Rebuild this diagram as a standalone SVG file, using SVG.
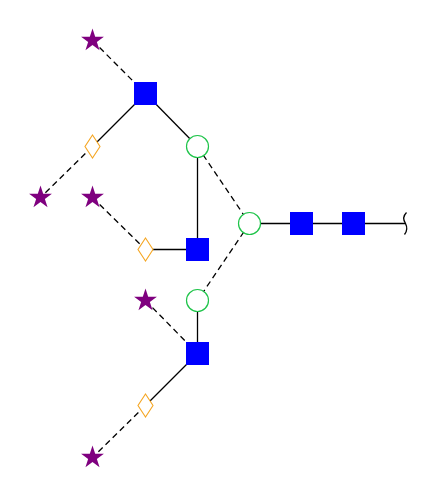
<svg xmlns="http://www.w3.org/2000/svg" xmlns:xlink="http://www.w3.org/1999/xlink" width="446" height="498" viewBox="0 0 446 498">
<style>
.s{stroke:#000;stroke-width:1.3;fill:none}
.d{stroke:#000;stroke-width:1.3;fill:none;stroke-dasharray:6,4}
.sq{fill:#0000FF;stroke:none}
.ci{fill:#fff;stroke:#1FC44A;stroke-width:1.2}
.di{fill:#fff;stroke:#F5A623;stroke-width:1.1}
.st{fill:#7F007F;stroke:none}
</style>
<defs>
<path id="star" d="M0,-12 L2.69,-3.71 L11.41,-3.71 L4.36,1.42 L7.05,9.71 L0,4.58 L-7.05,9.71 L-4.36,1.42 L-11.41,-3.71 L-2.69,-3.71 Z"/>
<path id="dia" d="M0,-11.5 L7.5,0 L0,11.5 L-7.5,0 Z"/>
</defs>
<g transform="translate(0.5,0.5)">
<g id="connectors">
<line class="d" x1="92" y1="40" x2="145" y2="93"/>
<line class="s" x1="145" y1="93" x2="92" y2="146"/>
<line class="s" x1="145" y1="93" x2="197" y2="146"/>
<line class="d" x1="92" y1="146" x2="40" y2="197"/>
<line class="s" x1="197" y1="146" x2="197" y2="249"/>
<line class="d" x1="92" y1="197" x2="145" y2="249"/>
<line class="s" x1="145" y1="249" x2="197" y2="249"/>
<line class="d" x1="197" y1="146" x2="249" y2="223"/>
<line class="d" x1="249" y1="223" x2="197" y2="300"/>
<line class="s" x1="249" y1="223" x2="405" y2="223"/>
<line class="s" x1="197" y1="300" x2="197" y2="353"/>
<line class="d" x1="145" y1="300" x2="197" y2="353"/>
<line class="s" x1="197" y1="353" x2="145" y2="405"/>
<line class="d" x1="145" y1="405" x2="92" y2="457"/>
<path class="s" d="M406,212 Q401,217 405,223 Q408,229 404,234"/>
</g>
<g id="n1"><use xlink:href="#star" class="st" x="92" y="40"/></g>
<g id="n2"><rect class="sq" x="133.5" y="81.5" width="23" height="23"/></g>
<g id="n3"><use xlink:href="#dia" class="di" x="92" y="146"/></g>
<g id="n4"><use xlink:href="#star" class="st" x="40" y="197"/></g>
<g id="n5"><circle class="ci" cx="197" cy="146" r="11"/></g>
<g id="n6"><use xlink:href="#star" class="st" x="92" y="197"/></g>
<g id="n7"><use xlink:href="#dia" class="di" x="145" y="249"/></g>
<g id="n8"><rect class="sq" x="185.5" y="237.5" width="23" height="23"/></g>
<g id="n9"><circle class="ci" cx="249" cy="223" r="11"/></g>
<g id="n10"><rect class="sq" x="289.5" y="211.5" width="23" height="23"/></g>
<g id="n11"><rect class="sq" x="341.5" y="211.5" width="23" height="23"/></g>
<g id="n12"><circle class="ci" cx="197" cy="300" r="11"/></g>
<g id="n13"><use xlink:href="#star" class="st" x="145" y="300"/></g>
<g id="n14"><rect class="sq" x="185.5" y="341.5" width="23" height="23"/></g>
<g id="n15"><use xlink:href="#dia" class="di" x="145" y="405"/></g>
<g id="n16"><use xlink:href="#star" class="st" x="92" y="457"/></g>
</g>
</svg>
